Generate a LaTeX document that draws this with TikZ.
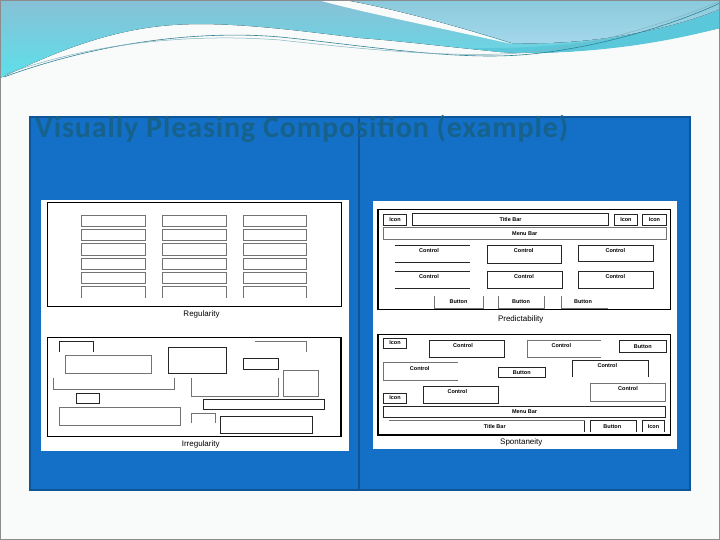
\documentclass[tikz,border=0pt]{standalone}
\usepackage{fontspec}
\setmainfont{Liberation Sans}
\newfontfamily\titlefont[LetterSpace=3]{Carlito}
\usetikzlibrary{positioning}
\definecolor{pagebg}{RGB}{249,250,250}
\definecolor{slideblue}{RGB}{19,112,198}
\definecolor{slideedge}{RGB}{14,84,150}
\definecolor{titleteal}{RGB}{22,98,140}
\definecolor{wavetop}{RGB}{136,192,214}
\definecolor{wavecyan}{RGB}{92,224,234}
\definecolor{wavelight}{RGB}{166,216,236}
\definecolor{wavemid}{RGB}{138,202,220}
\definecolor{waveband}{RGB}{90,200,218}
\definecolor{waveline}{RGB}{50,130,150}

\begin{document}
\begin{tikzpicture}[
        x=1pt, y=-1pt,
        frame/.style={draw=black, line width=1.3pt},
        wire/.style={draw=black!85, line width=0.8pt},
        faint/.style={draw=black!55, line width=0.8pt},
        widget/.style={wire, inner sep=0pt, anchor=north west, font=\bfseries\fontsize{5.5}{7}\selectfont},
        tag/.style={font=\bfseries\fontsize{5.5}{7}\selectfont, inner sep=0pt},
        caption/.style={font=\fontsize{8}{9}\selectfont, inner sep=0pt}
    ]
        \useasboundingbox (0,0) rectangle (720,540);
        \fill[pagebg] (0,0) rectangle (720,540);

        % Waves at the top
        \fill[top color=wavetop, bottom color=wavecyan] (0,0) -- (720,0) -- (720,28)
            .. controls (640,46) and (560,56) .. (500,52)
            .. controls (440,46) and (400,41) .. (360,38)
            .. controls (300,31) and (230,21) .. (173,25)
            .. controls (100,30) and (40,60) .. (0,78) -- cycle;
        \fill[waveband] (470,48) .. controls (580,50) and (670,30) .. (720,10) -- (720,28)
            .. controls (660,44) and (580,56) .. (500,52) -- cycle;
        \fill[pagebg] (318,0) .. controls (360,12) and (450,30) .. (512,44)
            .. controls (450,24) and (390,8) .. (345,0) -- cycle;
        \fill[top color=wavemid, bottom color=wavelight] (345,0) .. controls (390,8) and (450,24) .. (512,43)
            .. controls (600,46) and (680,26) .. (720,9) -- (720,0) -- cycle;
        \draw[waveline, line width=0.6pt] (4,77) .. controls (100,42) and (200,30) .. (280,37)
            .. controls (360,45) and (450,60) .. (520,55) .. controls (600,49) and (680,22) .. (720,3);
        \draw[waveline!60, line width=0.5pt] (6,74) .. controls (100,40) and (200,34) .. (280,40)
            .. controls (360,49) and (450,58) .. (520,53) .. controls (600,46) and (680,18) .. (718,2);
        \draw[black!45] (0.5,0.5) rectangle (719.5,539.5);

        % Blue panel
        \fill[slideblue] (30,117) rectangle (690,490);
        \draw[slideedge, line width=2pt] (30,117) rectangle (690,490);
        \draw[slideedge, line width=1.5pt] (359,117) -- (359,490);
        \node[anchor=base west, inner sep=0pt, text=titleteal, font=\titlefont\bfseries\fontsize{30}{32}\selectfont] (title) at (35,137.5) {Visually Pleasing Composition (example)};

        % White cards
        \fill[white] (40.5,200) rectangle (349,451);
        \fill[white] (373,201.5) rectangle (677,449);

        % Regularity
        \draw[frame] (47.3,202.3) rectangle (341.7,306.7);
        \foreach \cx in {81.7,162.7,243.3} {
            \foreach \ry in {215,229.3,243.7,258,272.3}
                \draw[faint] (\cx,\ry) rectangle ++(63.3,11.3);
            \draw[faint] (\cx,297.7) -- (\cx,286.7) -- ({\cx+63.3},286.7) -- ({\cx+63.3},297.7);
        }
        \node[caption] (regularity) at (201.5,314.5) {Regularity};

        % Irregularity
        \draw[frame] (47.3,337.7) rectangle (341,436.7);
        \draw[wire] (59.3,351.7) -- (59.3,341.7) -- (93.3,341.7) -- (93.3,351.7);
        \draw[faint] (65,355.7) rectangle (151,373.3);
        \draw[wire] (168.3,347.3) rectangle (226,373.3);
        \draw[faint] (255,341) -- (306.7,341) -- (306.7,351.7);
        \draw[wire] (243.3,358.3) rectangle (278.3,369.3);
        \draw[faint] (53.3,378.3) -- (53.3,389) -- (174.3,389) -- (174.3,378.3);
        \draw[faint] (191.7,378.3) -- (191.7,396) -- (278.3,396) -- (278.3,378.3);
        \draw[faint] (283.3,370) rectangle (318.3,396);
        \draw[wire] (76,393.3) rectangle (99.3,403.3);
        \draw[wire] (203.3,399.3) rectangle (324,409.3);
        \draw[faint] (59.3,407.7) rectangle (180,425);
        \draw[faint] (191.7,423.3) -- (191.7,413.3) -- (215,413.3) -- (215,423.3);
        \draw[wire] (220,416) rectangle (312.3,433.3);
        \node[caption] (irregularity) at (200.7,444.5) {Irregularity};

        % Predictability
        \draw[frame] (378,209.7) rectangle (670.7,309.7);
        \node[widget, minimum width=23.3pt, minimum height=10.7pt] (picon1) at (383,214) {Icon};
        \node[widget, minimum width=195.7pt, minimum height=11.7pt] (ptitle) at (412.3,213) {Title Bar};
        \node[widget, minimum width=23.6pt, minimum height=10.7pt] (picon2) at (613.7,214) {Icon};
        \node[widget, minimum width=23.4pt, minimum height=10.7pt] (picon3) at (642.3,214) {Icon};
        \node[widget, faint, minimum width=282.7pt, minimum height=11.7pt] (pmenu) at (383,227.3) {Menu Bar};
        \draw[wire] (394.7,245.7) -- (469.7,245.7) (394.7,262) -- (469.7,262);
        \draw[wire] (487,245.7) rectangle (561.3,263.7);
        \draw[wire] (578,245.7) rectangle (653.7,261.3);
        \draw[wire] (394.7,271.3) -- (469.7,271.3) (394.7,288) -- (469.7,288);
        \draw[wire] (487,271.3) rectangle (562,288);
        \draw[wire] (578,271.3) rectangle (653.7,288);
        \node[tag] (pctl1) at (429,250.5) {Control};
        \node[tag] (pctl2) at (523.7,250.5) {Control};
        \node[tag] (pctl3) at (615.3,250.5) {Control};
        \node[tag] (pctl4) at (429,277) {Control};
        \node[tag] (pctl5) at (524,277) {Control};
        \node[tag] (pctl6) at (615.3,277) {Control};
        \draw[faint] (434.7,296.3) -- (434.7,308) -- (483,308) -- (483,296.3);
        \draw[faint] (498,296.3) -- (498,308) -- (544,308) -- (544,296.3);
        \draw[faint] (561.3,296.3) -- (561.3,308) -- (608,308);
        \node[tag] (pbtn1) at (458.5,302) {Button};
        \node[tag] (pbtn2) at (521,302) {Button};
        \node[tag] (pbtn3) at (583,302) {Button};
        \node[caption] (predictability) at (520.7,319) {Predictability};

        % Spontaneity
        \draw[frame] (378,334.3) rectangle (670.7,435);
        \node[widget, minimum width=23.3pt, minimum height=10pt] (sicon1) at (383,337.7) {Icon};
        \draw[wire] (429,340) rectangle (504.7,357.3);
        \node[tag] (sctl1) at (463,345.7) {Control};
        \draw[faint] (601.3,340) -- (527.3,340) -- (527.3,357.3) -- (601.3,357.3);
        \node[tag] (sctl2) at (561.3,345.7) {Control};
        \node[widget, minimum width=46.7pt, minimum height=11.7pt] (sbtn1) at (619,340) {Button};
        \draw[faint] (458,362.7) -- (383,362.7) -- (383,380) -- (458,380);
        \node[tag] (sctl3) at (419.7,368.3) {Control};
        \node[widget, minimum width=46.7pt, minimum height=10.6pt] (sbtn2) at (498,366.7) {Button};
        \draw[wire] (572.3,377.3) -- (572.3,360) -- (648,360) -- (648,377.3);
        \node[tag] (sctl4) at (607.3,366) {Control};
        \node[widget, minimum width=23.3pt, minimum height=10pt] (sicon2) at (383,392.7) {Icon};
        \draw[wire] (423,386) rectangle (498,403.3);
        \node[tag] (sctl5) at (457.3,391.7) {Control};
        \draw[faint] (590.3,383.3) rectangle (665.3,401);
        \node[tag] (sctl6) at (628,388.3) {Control};
        \node[widget, minimum width=282.3pt, minimum height=10.7pt] (smenu) at (383,406) {Menu Bar};
        \draw[faint] (389,420.7) -- (584.7,420.7);
        \draw[wire] (584.7,420.7) -- (584.7,431.7);
        \node[tag] (stitle) at (494.7,426.5) {Title Bar};
        \draw[wire] (590.3,431.7) -- (590.3,420.7) -- (636.3,420.7) -- (636.3,431.7);
        \node[tag] (sbtn3) at (612.3,426.5) {Button};
        \draw[wire] (642.3,431.7) -- (642.3,420.7) -- (664.7,420.7) -- (664.7,431.7);
        \node[tag] (sicon3) at (653.5,426.5) {Icon};
        \node[caption] (spontaneity) at (521.3,442.5) {Spontaneity};

    \end{tikzpicture}
\end{document}
